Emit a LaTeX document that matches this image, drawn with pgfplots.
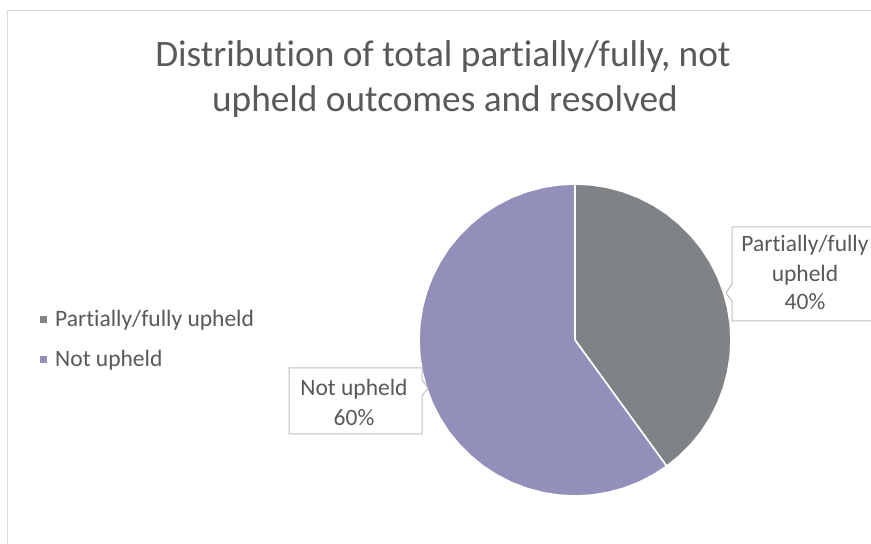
\documentclass[border=0pt]{standalone}
\usepackage{pgfplots}
\pgfplotsset{compat=1.18}
\usepgfplotslibrary{polar}
\usepackage{fontspec}
\setmainfont{Carlito}[RawFeature=-liga]
\definecolor{pieGray}{HTML}{808385}
\definecolor{piePurple}{HTML}{9290BA}
\definecolor{txtGray}{HTML}{595959}
\definecolor{frameGray}{HTML}{D9D9D9}
\definecolor{boxGray}{HTML}{BFBFBF}
\begin{document}
\begin{tikzpicture}[x=1pt,y=1pt]
\useasboundingbox (0,0) rectangle (871,544);
\clip (0,0) rectangle (871,544);
\fill[white] (0,0) rectangle (871,544);
\draw[frameGray, line width=1pt] (7.5,-20) rectangle (900,533);
\begin{polaraxis}[
  hide axis, scale only axis, clip=false,
  width=312pt, height=312pt,
  xmin=0, xmax=360, ymin=0, ymax=1,
  at={(575pt,204pt)}, anchor=origin]
% Partially/fully upheld: 40% -> 144 degrees clockwise from 90
\addplot[fill=pieGray, draw=white, line width=1.6pt, line join=round] coordinates {
(0,0) (90,1) (84,1) (78,1) (72,1) (66,1) (60,1) (54,1) (48,1) (42,1) (36,1) (30,1)
(24,1) (18,1) (12,1) (6,1) (0,1) (-6,1) (-12,1) (-18,1) (-24,1) (-30,1) (-36,1)
(-42,1) (-48,1) (-54,1)} -- cycle;
% Not upheld: 60% -> 216 degrees
\addplot[fill=piePurple, draw=white, line width=1.6pt, line join=round] coordinates {
(0,0) (-54,1) (-60,1) (-66,1) (-72,1) (-78,1) (-84,1) (-90,1) (-96,1) (-102,1)
(-108,1) (-114,1) (-120,1) (-126,1) (-132,1) (-138,1) (-144,1) (-150,1) (-156,1)
(-162,1) (-168,1) (-174,1) (-180,1) (-186,1) (-192,1) (-198,1) (-204,1) (-210,1)
(-216,1) (-222,1) (-228,1) (-234,1) (-240,1) (-246,1) (-252,1) (-258,1) (-264,1)
(-270,1)} -- cycle;
\end{polaraxis}
\begin{scope}[yshift=544pt, y=-1pt]
% title
\node[anchor=base, text=txtGray, font=\fontsize{37.3}{42}\selectfont, inner sep=0] at (443,67) {Distribution of total partially/fully, not};
\node[anchor=base, text=txtGray, font=\fontsize{37.3}{42}\selectfont, inner sep=0] at (445,112) {upheld outcomes and resolved};
% legend
\fill[pieGray] (40,316) rectangle (47,323);
\node[anchor=base west, text=txtGray, font=\fontsize{23.5}{28}\selectfont, inner sep=0] at (55,327) {Partially/fully upheld};
\fill[piePurple] (40,356) rectangle (47,363);
\node[anchor=base west, text=txtGray, font=\fontsize{23.5}{28}\selectfont, inner sep=0] at (55,367) {Not upheld};
% callout 1
\filldraw[fill=white, draw=boxGray, line width=1pt] (732,227) -- (880,227) -- (880,321) -- (732,321) -- (732,301) -- (726,293) -- (732,284) -- cycle;
\node[anchor=base, text=txtGray, font=\fontsize{23.5}{28}\selectfont, inner sep=0] at (805,252) {Partially/fully};
\node[anchor=base, text=txtGray, font=\fontsize{23.5}{28}\selectfont, inner sep=0] at (805,282) {upheld};
\node[anchor=base, text=txtGray, font=\fontsize{23.5}{28}\selectfont, inner sep=0] at (805,310) {40\%};
% callout 2
\filldraw[fill=white, draw=boxGray, line width=1pt] (289,368) -- (422,368) -- (422,380) -- (428,388) -- (422,396) -- (422,434) -- (289,434) -- cycle;
\node[anchor=base, text=txtGray, font=\fontsize{23.5}{28}\selectfont, inner sep=0] at (354,396) {Not upheld};
\node[anchor=base, text=txtGray, font=\fontsize{23.5}{28}\selectfont, inner sep=0] at (354,426) {60\%};
\end{scope}
\end{tikzpicture}
\end{document}
